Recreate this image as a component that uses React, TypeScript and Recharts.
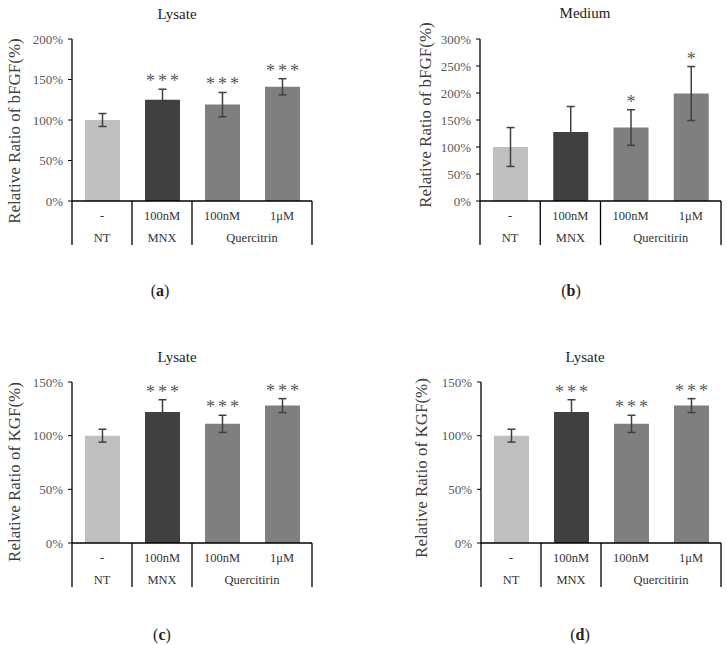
import { BarChart, Bar, XAxis, YAxis, ErrorBar, Cell, LabelList } from "recharts";

const doses = ["-", "100nM", "100nM", "1μM"];
const barColors = ["#bfbfbf", "#404040", "#7f7f7f", "#7f7f7f"];
const groupSpans = [1, 1, 2];
const groupsA = ["NT", "MNX", "Quercitrin"];
const groupsB = ["NT", "MNX", "Quercitirin"];

// bFGF, lysate
const bfgfLysate = [100, 125, 119, 141];
const bfgfLysateErr = [8, 13, 15, 10];
const bfgfLysateSig = ["", "***", "***", "***"];

// bFGF, medium
const bfgfMedium = [100, 128, 136, 199];
const bfgfMediumErr = [36, 47, 33, 50];
const bfgfMediumSig = ["", "", "*", "*"];

// KGF, lysate
const kgfLysate = [100, 122, 111, 128];
const kgfLysateErr = [6, 11.5, 8, 6.5];
const kgfLysateSig = ["", "***", "***", "***"];

const ticks200 = [0, 50, 100, 150, 200];
const ticks300 = [0, 50, 100, 150, 200, 250, 300];
const ticks150 = [0, 50, 100, 150];

const FONT = "'Liberation Serif', 'Times New Roman', serif";

type PanelProps = {
  values: number[];
  errs: number[];
  sig: string[];
  yMax: number;
  ticks: number[];
  yLabel: string;
  groups: string[];
  left: number;
  top: number;
  width: number;
  height: number;
  margin: { top: number; right: number; bottom: number; left: number };
  yAxisWidth: number;
  labelPos: [number, number];
};

function Panel(p: PanelProps) {
  const data = doses.map((d, i) => ({
    name: i,
    dose: d,
    value: p.values[i],
    err: p.errs[i],
    sig: p.sig[i],
  }));
  const plotW = p.width - p.margin.left - p.margin.right - p.yAxisWidth;
  const bw = plotW / doses.length;
  const tableH = 44;

  const groupStart: Record<number, { label: string; span: number }> = {};
  let idx = 0;
  groupSpans.forEach((s, g) => {
    groupStart[idx] = { label: p.groups[g], span: s };
    idx += s;
  });

  const renderTick = (props: any) => {
    const { x, y, payload } = props;
    const i = payload.index ?? payload.value;
    const g = groupStart[i];
    return (
      <g>
        <text x={x} y={y + 19} textAnchor="middle" fontSize={12.5} fill="#333" style={{ fontFamily: FONT }}>
          {doses[i]}
        </text>
        {g && (
          <>
            <text
              x={x + ((g.span - 1) * bw) / 2}
              y={y + 41}
              textAnchor="middle"
              fontSize={12.5}
              fill="#333"
              style={{ fontFamily: FONT }}
            >
              {g.label}
            </text>
            <line x1={x - bw / 2} x2={x - bw / 2} y1={y} y2={y + tableH} stroke="#000" strokeWidth={1.3} />
          </>
        )}
        {i === doses.length - 1 && (
          <line x1={x + bw / 2} x2={x + bw / 2} y1={y} y2={y + tableH} stroke="#000" strokeWidth={1.3} />
        )}
      </g>
    );
  };

  const renderStars = (props: any) => {
    const vb = props.viewBox ?? props;
    const i = props.index;
    const d = data[i];
    if (!d || !d.sig) return null;
    const scale = vb.height / d.value;
    const errTop = vb.y - d.err * scale;
    return (
      <text
        x={vb.x + vb.width / 2 + 1.5}
        y={errTop - 2}
        textAnchor="middle"
        fontSize={18}
        letterSpacing={3}
        fill="#595959"
        style={{ fontFamily: FONT }}
      >
        {d.sig}
      </text>
    );
  };

  return (
    <div style={{ position: "absolute", left: p.left, top: p.top }}>
      <BarChart width={p.width} height={p.height} data={data} margin={p.margin} barSize={35}>
        <XAxis
          dataKey="name"
          type="category"
          axisLine={{ stroke: "#000", strokeWidth: 1.3 }}
          tickLine={false}
          tickSize={0}
          tickMargin={0}
          height={tableH}
          interval={0}
          tick={renderTick}
        />
        <YAxis
          width={p.yAxisWidth}
          domain={[0, p.yMax]}
          ticks={p.ticks}
          tickFormatter={(v) => `${v}%`}
          axisLine={{ stroke: "#000", strokeWidth: 1.3 }}
          tickLine={{ stroke: "#000" }}
          tickSize={4}
          tickMargin={5}
          tick={{ fontSize: 13, fill: "#595959", style: { fontFamily: FONT } }}
          interval={0}
          allowDataOverflow
          label={{
            content: () => (
              <text
                x={p.labelPos[0]}
                y={p.labelPos[1]}
                transform={`rotate(-90 ${p.labelPos[0]} ${p.labelPos[1]})`}
                textAnchor="middle"
                dominantBaseline="central"
                fontSize={17}
                fill="#404040"
                style={{ fontFamily: FONT }}
              >
                {p.yLabel}
              </text>
            ),
          }}
        />
        <Bar dataKey="value" isAnimationActive={false}>
          {data.map((_, i) => (
            <Cell key={i} fill={barColors[i]} />
          ))}
          <ErrorBar dataKey="err" width={4} stroke="#404040" strokeWidth={1.5} />
          <LabelList dataKey="sig" content={renderStars} />
        </Bar>
      </BarChart>
    </div>
  );
}

const textStyle = (x: number, y: number, size: number): React.CSSProperties => ({
  position: "absolute",
  left: x,
  top: y,
  transform: "translate(-50%, -50%)",
  fontFamily: FONT,
  fontSize: size,
  lineHeight: 1,
  color: "#222",
  whiteSpace: "nowrap",
});

export default function App() {
  return (
    <div style={{ position: "absolute", left: 0, top: 0, width: 727, height: 645, background: "#fff" }}>
      <div style={textStyle(177, 14, 15)}>Lysate</div>
      <div style={textStyle(585, 13, 15)}>Medium</div>
      <div style={textStyle(177, 357, 15)}>Lysate</div>
      <div style={textStyle(585, 357, 15)}>Lysate</div>

      <Panel
        values={bfgfLysate}
        errs={bfgfLysateErr}
        sig={bfgfLysateSig}
        yMax={200}
        ticks={ticks200}
        yLabel="Relative Ratio of bFGF(%)"
        groups={groupsA}
        left={0}
        top={0}
        width={363}
        height={320}
        margin={{ top: 39, right: 51, bottom: 75, left: 0 }}
        yAxisWidth={72}
        labelPos={[14, 131]}
      />
      <Panel
        values={bfgfMedium}
        errs={bfgfMediumErr}
        sig={bfgfMediumSig}
        yMax={300}
        ticks={ticks300}
        yLabel="Relative Ratio of bFGF(%)"
        groups={groupsB}
        left={363}
        top={0}
        width={364}
        height={320}
        margin={{ top: 39, right: 6, bottom: 75, left: 0 }}
        yAxisWidth={117}
        labelPos={[62, 115]}
      />
      <Panel
        values={kgfLysate}
        errs={kgfLysateErr}
        sig={kgfLysateSig}
        yMax={150}
        ticks={ticks150}
        yLabel="Relative Ratio of KGF(%)"
        groups={groupsB}
        left={0}
        top={320}
        width={363}
        height={325}
        margin={{ top: 62, right: 51, bottom: 58, left: 0 }}
        yAxisWidth={72}
        labelPos={[14, 152]}
      />
      <Panel
        values={kgfLysate}
        errs={kgfLysateErr}
        sig={kgfLysateSig}
        yMax={150}
        ticks={ticks150}
        yLabel="Relative Ratio of KGF(%)"
        groups={groupsB}
        left={363}
        top={320}
        width={364}
        height={325}
        margin={{ top: 62, right: 6, bottom: 58, left: 0 }}
        yAxisWidth={118}
        labelPos={[58, 148]}
      />

      <div style={textStyle(160, 291, 16)}>
        (<b>a</b>)
      </div>
      <div style={textStyle(571, 291, 16)}>
        (<b>b</b>)
      </div>
      <div style={textStyle(162, 635, 16)}>
        (<b>c</b>)
      </div>
      <div style={textStyle(580, 635, 16)}>
        (<b>d</b>)
      </div>
    </div>
  );
}
